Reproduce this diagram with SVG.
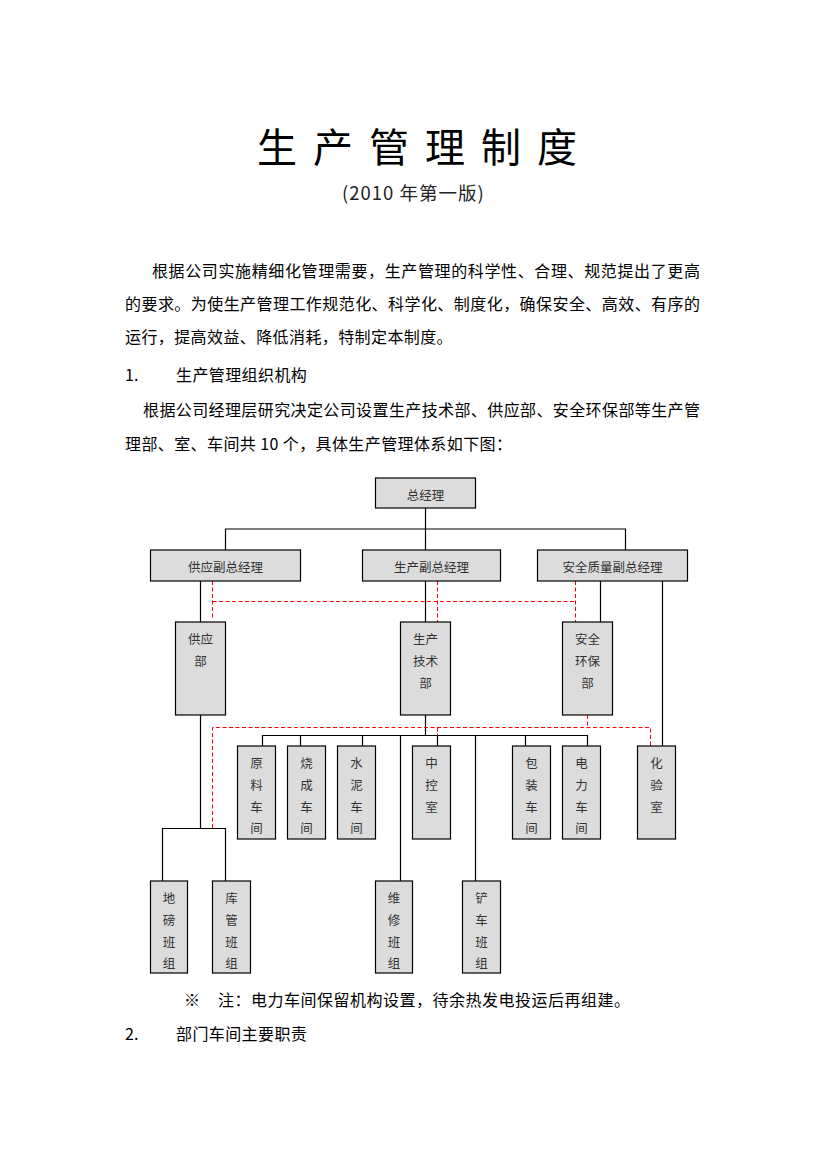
<svg xmlns="http://www.w3.org/2000/svg" width="826" height="1169" viewBox="0 0 826 1169">
<style>
  .t { font-family: "Noto Sans CJK SC", "Liberation Sans", sans-serif; font-size: 16px; fill: #000; dominant-baseline: central; }
  .title { font-size: 40px; letter-spacing: 16px; }
  .sub { font-size: 18.5px; letter-spacing: 1px; fill: #222; }
  .box { fill: #dcdcdc; stroke: #000; stroke-width: 1.2; }
  .lbl { font-family: "Noto Sans CJK SC", "Liberation Sans", sans-serif; font-size: 12.5px; fill: #333; text-anchor: middle; dominant-baseline: central; }
  .ln { stroke: #000; stroke-width: 1.2; fill: none; }
  .rd { stroke: #ff0000; stroke-width: 1; fill: none; stroke-dasharray: 4 2.5; }
</style>
<rect width="826" height="1169" fill="#fff"/>

<g id="text">
  <text class="t title" x="257" y="145">生产管理制度</text>
  <text class="t sub" x="342" y="192">(2010 年第一版)</text>
  <text class="t" x="152" y="270" textLength="548" lengthAdjust="spacing">根据公司实施精细化管理需要，生产管理的科学性、合理、规范提出了更高</text>
  <text class="t" x="125" y="303" textLength="575" lengthAdjust="spacing">的要求。为使生产管理工作规范化、科学化、制度化，确保安全、高效、有序的</text>
  <text class="t" x="125" y="336" style="letter-spacing:0.4px">运行，提高效益、降低消耗，特制定本制度。</text>
  <text class="t" x="125" y="374">1.</text>
  <text class="t" x="176" y="374" style="letter-spacing:0.4px">生产管理组织机构</text>
  <text class="t" x="143" y="409" textLength="557" lengthAdjust="spacing">根据公司经理层研究决定公司设置生产技术部、供应部、安全环保部等生产管</text>
  <text class="t" x="125" y="443" style="letter-spacing:0.4px">理部、室、车间共 10 个，具体生产管理体系如下图：</text>
  <text class="t" x="184" y="999">※</text>
  <text class="t" x="218" y="999" textLength="412" lengthAdjust="spacing">注：电力车间保留机构设置，待余热发电投运后再组建。</text>
  <text class="t" x="125" y="1033">2.</text>
  <text class="t" x="176" y="1033" style="letter-spacing:0.4px">部门车间主要职责</text>
</g>

<g id="connectors">
  <path class="ln" d="M425.5 508 V550 M225.5 550 V529 H625.5 V550"/>
  <path class="ln" d="M200.5 581 V622 M425.5 581 V622 M600.5 581 V622 M662.5 581 V746"/>
  <path class="ln" d="M425.5 715 V735.5 M262.5 746 V735.5 H587.5 V746 M300.5 735.5 V746 M362.5 735.5 V746 M437.5 735.5 V746 M525.5 735.5 V746"/>
  <path class="ln" d="M400.5 735.5 V881 M475.5 735.5 V881"/>
  <path class="ln" d="M200.5 715 V828.5 M162.5 881 V828.5 H225.5 V881"/>
  <path class="rd" d="M212.5 581 V620 M212.5 601.5 H575.5 M437.5 581 V622 M575.5 581 V622"/>
  <path class="rd" d="M587.5 715 V727.5 M212.5 828 V727.5 H650.5 V748 M437.5 727.5 V735.5"/>
</g>

<g id="n-gm">
  <rect class="box" x="375.5" y="478" width="100" height="30"/>
  <text class="lbl" x="425.5" y="494">总经理</text>
</g>
<g id="n-supply-vp">
  <rect class="box" x="150.5" y="550" width="150" height="31"/>
  <text class="lbl" x="225.5" y="566.5">供应副总经理</text>
</g>
<g id="n-prod-vp">
  <rect class="box" x="362.5" y="550" width="138" height="31"/>
  <text class="lbl" x="431.5" y="566.5">生产副总经理</text>
</g>
<g id="n-safety-vp">
  <rect class="box" x="537.5" y="550" width="150" height="31"/>
  <text class="lbl" x="612.5" y="566.5">安全质量副总经理</text>
</g>

<g id="n-supply">
  <rect class="box" x="175.5" y="622" width="50" height="93"/>
  <text class="lbl" x="200.5" y="638">供应</text>
  <text class="lbl" x="200.5" y="660">部</text>
</g>
<g id="n-tech">
  <rect class="box" x="400.5" y="622" width="50" height="93"/>
  <text class="lbl" x="425.5" y="638">生产</text>
  <text class="lbl" x="425.5" y="660">技术</text>
  <text class="lbl" x="425.5" y="682">部</text>
</g>
<g id="n-env">
  <rect class="box" x="562.5" y="622" width="50" height="93"/>
  <text class="lbl" x="587.5" y="638">安全</text>
  <text class="lbl" x="587.5" y="660">环保</text>
  <text class="lbl" x="587.5" y="682">部</text>
</g>

<g id="n-raw">
  <rect class="box" x="237.5" y="746" width="38" height="93"/>
  <text class="lbl" x="256.5" y="762">原</text><text class="lbl" x="256.5" y="784">料</text><text class="lbl" x="256.5" y="806">车</text><text class="lbl" x="256.5" y="827.5">间</text>
</g>
<g id="n-kiln">
  <rect class="box" x="287.5" y="746" width="38" height="93"/>
  <text class="lbl" x="306.5" y="762">烧</text><text class="lbl" x="306.5" y="784">成</text><text class="lbl" x="306.5" y="806">车</text><text class="lbl" x="306.5" y="827.5">间</text>
</g>
<g id="n-cement">
  <rect class="box" x="337.5" y="746" width="38" height="93"/>
  <text class="lbl" x="356.5" y="762">水</text><text class="lbl" x="356.5" y="784">泥</text><text class="lbl" x="356.5" y="806">车</text><text class="lbl" x="356.5" y="827.5">间</text>
</g>
<g id="n-control">
  <rect class="box" x="412.5" y="746" width="38" height="93"/>
  <text class="lbl" x="431.5" y="762">中</text><text class="lbl" x="431.5" y="784">控</text><text class="lbl" x="431.5" y="806">室</text>
</g>
<g id="n-pack">
  <rect class="box" x="512.5" y="746" width="38" height="93"/>
  <text class="lbl" x="531.5" y="762">包</text><text class="lbl" x="531.5" y="784">装</text><text class="lbl" x="531.5" y="806">车</text><text class="lbl" x="531.5" y="827.5">间</text>
</g>
<g id="n-power">
  <rect class="box" x="562.5" y="746" width="38" height="93"/>
  <text class="lbl" x="581.5" y="762">电</text><text class="lbl" x="581.5" y="784">力</text><text class="lbl" x="581.5" y="806">车</text><text class="lbl" x="581.5" y="827.5">间</text>
</g>
<g id="n-lab">
  <rect class="box" x="637.5" y="746" width="38" height="93"/>
  <text class="lbl" x="656.5" y="762">化</text><text class="lbl" x="656.5" y="784">验</text><text class="lbl" x="656.5" y="806">室</text>
</g>

<g id="n-scale">
  <rect class="box" x="150.5" y="881" width="37" height="92"/>
  <text class="lbl" x="169" y="897">地</text><text class="lbl" x="169" y="919">磅</text><text class="lbl" x="169" y="941">班</text><text class="lbl" x="169" y="962.5">组</text>
</g>
<g id="n-store">
  <rect class="box" x="212.5" y="881" width="38" height="92"/>
  <text class="lbl" x="231.5" y="897">库</text><text class="lbl" x="231.5" y="919">管</text><text class="lbl" x="231.5" y="941">班</text><text class="lbl" x="231.5" y="962.5">组</text>
</g>
<g id="n-repair">
  <rect class="box" x="375.5" y="881" width="37" height="92"/>
  <text class="lbl" x="394" y="897">维</text><text class="lbl" x="394" y="919">修</text><text class="lbl" x="394" y="941">班</text><text class="lbl" x="394" y="962.5">组</text>
</g>
<g id="n-loader">
  <rect class="box" x="462.5" y="881" width="38" height="92"/>
  <text class="lbl" x="481.5" y="897">铲</text><text class="lbl" x="481.5" y="919">车</text><text class="lbl" x="481.5" y="941">班</text><text class="lbl" x="481.5" y="962.5">组</text>
</g>
</svg>
